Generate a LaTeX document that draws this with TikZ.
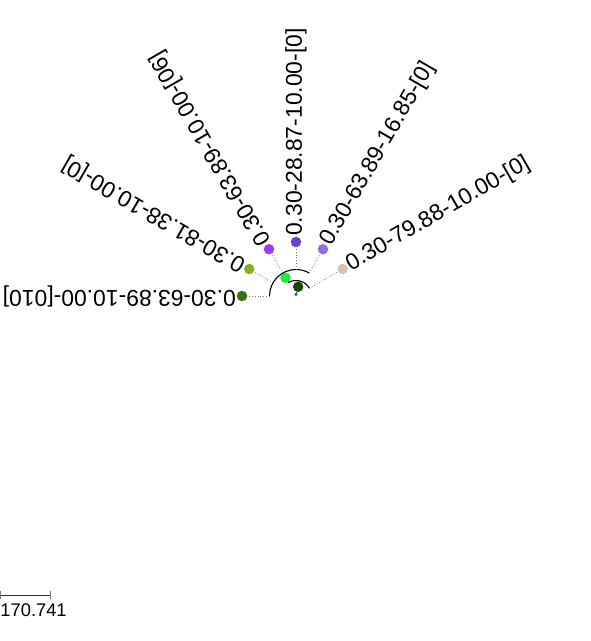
\documentclass[tikz,border=0pt]{standalone}
\usepackage{fontspec}
\setmainfont{Liberation Sans}
\usepackage{tikz}
\definecolor{olive}{RGB}{56,112,22}
\definecolor{lime}{RGB}{137,176,24}
\definecolor{grape}{RGB}{153,62,245}
\definecolor{indigo}{RGB}{105,66,204}
\definecolor{lilac}{RGB}{147,112,226}
\definecolor{sand}{RGB}{218,194,178}
\definecolor{neon}{RGB}{30,235,60}
\definecolor{forest}{RGB}{22,70,10}
\definecolor{rootblue}{RGB}{30,80,210}
\definecolor{guide}{RGB}{120,120,120}

\begin{document}
\begin{tikzpicture}[
    x=1pt, y=1pt,
    tip/.style={circle, fill=#1, draw=none, minimum size=10.5pt, inner sep=0pt},
    lab/.style={anchor=west, inner sep=0pt, font=\fontsize{22.9}{27}\selectfont},
    branch/.style={draw=black, line width=1.1pt},
    dots/.style={draw=guide, dotted, line width=0.8pt}
]
\useasboundingbox (0,0) rectangle (591,641);
\coordinate (root) at (296,345);
\coordinate (s30) at ([shift={(30:15.5pt)}]root);
\coordinate (s75) at ([shift={(75:15.5pt)}]root);
\coordinate (s120) at ([shift={(120:15.5pt)}]root);
\coordinate (k60) at ([shift={(60:26.5pt)}]root);
\coordinate (k90) at ([shift={(90:26.5pt)}]root);
\coordinate (k120) at ([shift={(120:26.5pt)}]root);
\coordinate (k150) at ([shift={(150:26.5pt)}]root);
\coordinate (k180) at ([shift={(180:26.5pt)}]root);

\node[tip=olive] (l1) at ([shift={(180:54pt)}]root) {};
\node[tip=lime] (l2) at ([shift={(150:54pt)}]root) {};
\node[tip=grape] (l3) at ([shift={(120:54pt)}]root) {};
\node[tip=indigo] (l4) at ([shift={(90:54pt)}]root) {};
\node[tip=lilac] (l5) at ([shift={(60:54pt)}]root) {};
\node[tip=sand] (l6) at ([shift={(30:54pt)}]root) {};
\node[tip=neon] (nA) at ([shift={(120:21pt)}]root) {};
\node[tip=forest] (nR) at ([shift={(77:9.5pt)}]root) {};
\node[circle, fill=rootblue, minimum size=3.5pt, inner sep=0pt] (rt) at ([yshift=1.5pt]root) {};

\draw[branch] (k180) arc[start angle=180, end angle=60, radius=26.5pt];
\draw[branch] (s120) arc[start angle=120, end angle=30, radius=15.5pt];
\draw[branch] (s120) -- (nA) -- (k120);
\draw[branch] (rt) -- (nR) -- (s75);

\draw[dots] (k180) -- (l1);
\draw[dots] (k150) -- (l2);
\draw[dots] (k120) -- (l3);
\draw[dots] (k90) -- (l4);
\draw[dots] (k60) -- (l5);
\draw[dots] (s30) -- (l6);

\node[lab, rotate=180] (t1) at ([shift={(180:60pt)}]root) {0.30-63.89-10.00-[010]};
\node[lab, rotate=150] (t2) at ([shift={(150:60pt)}]root) {0.30-81.38-10.00-[0]};
\node[lab, rotate=120] (t3) at ([shift={(120:60pt)}]root) {0.30-63.89-10.00-[06]};
\node[lab, rotate=90] (t4) at ([shift={(90:60pt)}]root) {0.30-28.87-10.00-[0]};
\node[lab, rotate=60] (t5) at ([shift={(60:60pt)}]root) {0.30-63.89-16.85-[0]};
\node[lab, rotate=30] (t6) at ([shift={(30:60pt)}]root) {0.30-79.88-10.00-[0]};

\coordinate (b0) at (0.5,46);
\coordinate (b1) at (50.5,46);
\draw[line width=0.9pt, black!80] (b0) -- (b1);
\draw[line width=0.9pt, guide] ([yshift=-4pt]b0) -- ([yshift=4pt]b0);
\draw[line width=0.9pt, guide] ([yshift=-4pt]b1) -- ([yshift=4pt]b1);
\node[anchor=base west, inner sep=0pt, font=\fontsize{18.3}{22}\selectfont] (scale) at (0.3,24) {170.741};
\end{tikzpicture}
\end{document}
